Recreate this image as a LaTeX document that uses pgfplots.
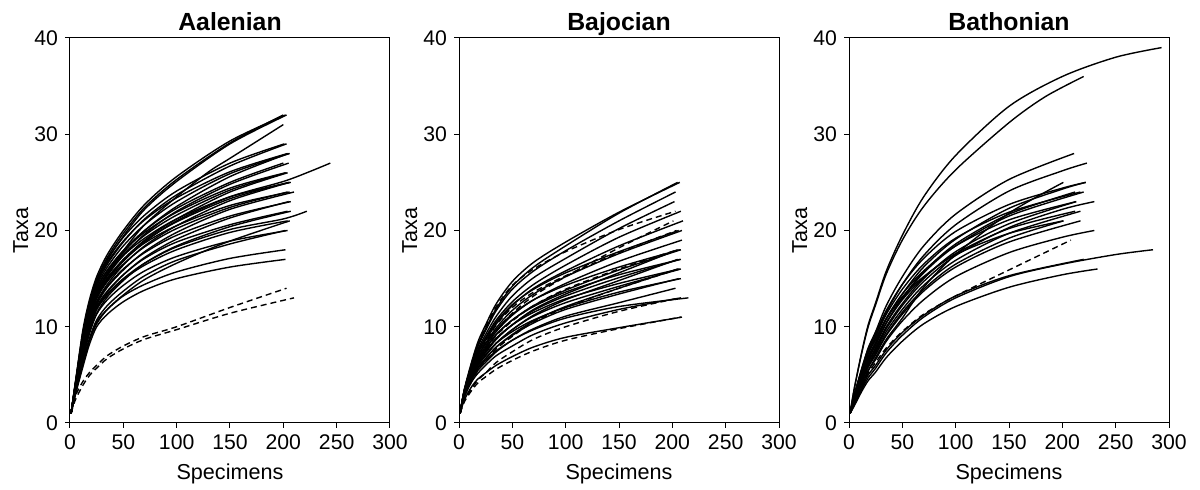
\documentclass[border=0pt]{standalone}
\usepackage{fontspec}
\setmainfont{Liberation Sans}
\usepackage{pgfplots}
\pgfplotsset{compat=1.18}

\pgfplotsset{
  rc/.style={black, line width=0.7pt, smooth, no markers},
  rcd/.style={rc, dash pattern=on 3pt off 2pt},
  panel/.style={
    anchor=south west,
    width=160pt, height=192.5pt, scale only axis,
    xmin=0, xmax=300, ymin=0, ymax=40,
    xtick={0,50,...,300}, ytick={0,10,...,40},
    tick align=outside, xtick pos=bottom, ytick pos=left,
    major tick length=2.5pt,
    tick style={black, line width=0.5pt},
    axis line style={line width=0.5pt},
    /pgf/number format/assume math mode=true,
    tick label style={font=\fontsize{10.6}{12}\selectfont},
    label style={font=\fontsize{10.8}{12}\selectfont},
    title style={font=\fontsize{12.4}{14}\selectfont\bfseries,
      at={(axis description cs:0.5,0.9893)}, anchor=base},
    xlabel=Specimens, ylabel=Taxa,
    xlabel style={at={(axis description cs:0.5,-0.148)}, anchor=base},
    ylabel style={at={(axis description cs:-0.131,0.5)}, anchor=base},
  },
}

\begin{document}
\begin{tikzpicture}
\useasboundingbox (-35pt,-33.5pt) rectangle (565pt,211.5pt);

% ---------------- Aalenian
\begin{axis}[panel, at={(0pt,0pt)}, title=Aalenian]
\addplot[rc] coordinates {(1,1)(5,4.2)(12,9.6)(18,12.7)(25,15.2)(35,17.5)(50,20.0)(70,22.7)(100,25.6)(150,29.3)(202,32)};
\addplot[rc] coordinates {(1,1)(5,4.0)(12,9.2)(18,12.2)(25,14.6)(35,16.9)(50,19.4)(70,22.2)(100,25.1)(150,29.0)(203,32)};
\addplot[rc] coordinates {(1,1)(5,4.1)(12,9.4)(18,12.4)(25,14.9)(35,17.2)(50,19.7)(70,22.4)(100,25.3)(150,29.1)(200,32)};
\addplot[rc] coordinates {(1,1)(5,3.9)(12,8.5)(18,11.2)(25,13.4)(35,15.6)(50,17.9)(70,20.6)(100,23.5)(130,26.1)(150,27.5)(200,31)};
\addplot[rc] coordinates {(1,1)(5,4.0)(12,8.9)(18,11.9)(25,14.4)(35,16.5)(50,18.8)(70,21.2)(100,23.7)(150,26.7)(203,29)};
\addplot[rc] coordinates {(1,1)(5,4.1)(12,9.2)(18,12.3)(25,14.8)(35,17.0)(50,19.3)(70,21.6)(100,24.1)(150,27.0)(201,29)};
\addplot[rc] coordinates {(1,1)(5,3.9)(12,8.7)(18,11.7)(25,14.2)(35,16.2)(50,18.4)(70,20.6)(100,23.0)(150,25.9)(206,28)};
\addplot[rc] coordinates {(1,1)(5,3.8)(12,8.3)(18,11.2)(25,13.5)(35,15.5)(50,17.7)(70,20.0)(100,22.5)(150,25.6)(205,28)};
\addplot[rc] coordinates {(1,1)(5,4.0)(12,9.0)(18,12.1)(25,14.6)(35,16.7)(50,18.9)(70,21.1)(100,23.4)(150,26.1)(204,28)};
\addplot[rc] coordinates {(1,1)(5,3.9)(12,8.5)(18,11.5)(25,13.9)(35,15.8)(50,17.9)(70,20.0)(100,22.3)(150,25.0)(200,27)};
\addplot[rc] coordinates {(1,1)(5,3.8)(12,8.2)(18,11.1)(25,13.4)(35,15.3)(50,17.4)(70,19.6)(100,22.0)(150,24.8)(205,27)};
\addplot[rc] coordinates {(1,1)(5,3.8)(12,8.2)(18,11.2)(25,13.6)(35,15.5)(50,17.5)(70,19.5)(100,21.6)(150,24.2)(203,26)};
\addplot[rc] coordinates {(1,1)(5,3.7)(12,7.9)(18,10.7)(25,13.0)(35,14.9)(50,16.9)(70,19.0)(100,21.2)(150,24.0)(204,26)};
\addplot[rc] coordinates {(1,1)(5,3.9)(12,8.6)(18,11.6)(25,14.0)(35,15.9)(50,17.9)(70,19.8)(100,21.9)(150,24.4)(202,26)};
\addplot[rc] coordinates {(1,1)(5,3.7)(12,8.0)(18,10.9)(25,13.2)(35,15.0)(50,17.0)(70,18.9)(100,20.9)(150,23.3)(205,25)};
\addplot[rc] coordinates {(1,1)(5,3.6)(12,7.6)(18,10.4)(25,12.6)(35,14.4)(50,16.4)(70,18.4)(100,20.5)(150,23.1)(206,25)};
\addplot[rc] coordinates {(1,1)(5,3.8)(12,8.3)(18,11.3)(25,13.7)(35,15.5)(50,17.4)(70,19.2)(100,21.2)(150,23.5)(207,25)};
\addplot[rc] coordinates {(1,1)(5,3.7)(12,7.9)(18,10.7)(25,13.0)(35,14.8)(50,16.8)(70,18.8)(100,21.0)(150,23.5)(203,25.2)(244,27)};
\addplot[rc] coordinates {(1,1)(5,3.6)(12,7.7)(18,10.6)(25,12.9)(35,14.7)(50,16.5)(70,18.3)(100,20.2)(150,22.4)(204,24)};
\addplot[rc] coordinates {(1,1)(5,3.5)(12,7.4)(18,10.1)(25,12.3)(35,14.1)(50,15.9)(70,17.8)(100,19.8)(150,22.2)(210,24)};
\addplot[rc] coordinates {(1,1)(5,3.7)(12,7.9)(18,10.9)(25,13.3)(35,15.1)(50,16.9)(70,18.7)(100,20.5)(150,22.6)(206,24)};
\addplot[rc] coordinates {(1,1)(5,3.5)(12,7.5)(18,10.3)(25,12.5)(35,14.2)(50,16.0)(70,17.7)(100,19.5)(150,21.5)(207,23)};
\addplot[rc] coordinates {(1,1)(5,3.4)(12,7.1)(18,9.7)(25,11.9)(35,13.6)(50,15.4)(70,17.2)(100,19.1)(150,21.3)(205,23)};
\addplot[rc] coordinates {(1,1)(5,3.5)(12,7.2)(18,9.9)(25,12.1)(35,13.7)(50,15.4)(70,17.1)(100,18.8)(150,20.6)(204,22)};
\addplot[rc] coordinates {(1,1)(5,3.3)(12,6.8)(18,9.3)(25,11.4)(35,13.1)(50,14.8)(70,16.6)(100,18.4)(150,20.4)(207,22)};
\addplot[rc] coordinates {(1,1)(5,3.4)(12,7.0)(18,9.6)(25,11.8)(35,13.4)(50,15.0)(70,16.6)(100,18.3)(150,20.1)(200,21.2)(222,22)};
\addplot[rc] coordinates {(1,1)(5,3.4)(12,6.9)(18,9.6)(25,11.8)(35,13.3)(50,14.9)(70,16.4)(100,18.0)(150,19.8)(204,21)};
\addplot[rc] coordinates {(1,1)(5,3.1)(12,6.2)(18,8.5)(25,10.3)(35,11.8)(50,13.3)(70,14.9)(100,16.6)(145,18.7)(206,21)};
\addplot[rc] coordinates {(1,1)(5,3.2)(12,6.6)(18,9.2)(25,11.3)(35,12.8)(50,14.3)(70,15.8)(100,17.3)(150,18.9)(204,20)};
\addplot[rc] coordinates {(1,1)(5,3.1)(12,6.3)(18,8.7)(25,10.7)(35,12.2)(50,13.7)(70,15.3)(100,16.9)(150,18.6)(202,20)};
\addplot[rc] coordinates {(1,1)(5,3.0)(12,6.1)(18,8.5)(25,10.5)(35,11.8)(50,13.2)(70,14.4)(100,15.7)(150,17.1)(202,18)};
\addplot[rc] coordinates {(1,1)(5,2.9)(12,5.8)(18,8.1)(25,10.0)(35,11.3)(50,12.6)(70,13.8)(100,15.0)(150,16.2)(202,17)};
\addplot[rcd] coordinates {(1,1)(5,2.8)(12,4.3)(18,5.2)(25,6.0)(35,7.0)(50,8.0)(70,9.0)(100,10.0)(150,12.0)(203,14)};
\addplot[rcd] coordinates {(1,1)(5,2.4)(12,3.9)(18,4.9)(25,5.7)(35,6.7)(50,7.7)(70,8.7)(100,9.7)(150,11.4)(210,13)};
\end{axis}

% ---------------- Bajocian
\begin{axis}[panel, at={(194.5pt,0pt)}, title=Bajocian]
\addplot[rc] coordinates {(1,1)(5,3.5)(12,6.4)(18,8.5)(25,10.2)(35,12.4)(50,14.7)(70,16.7)(100,18.8)(150,21.9)(207,25)};
\addplot[rc] coordinates {(1,1)(5,3.4)(12,6.2)(18,8.2)(25,9.8)(35,11.9)(50,14.2)(70,16.2)(100,18.4)(150,21.8)(205,25)};
\addplot[rc] coordinates {(1,1)(5,3.4)(12,6.1)(18,8.0)(25,9.6)(35,11.7)(50,13.9)(70,15.8)(100,17.9)(150,21.0)(203,24)};
\addplot[rc] coordinates {(1,1)(5,3.3)(12,5.9)(18,7.7)(25,9.2)(35,11.1)(50,13.2)(70,15.1)(100,17.1)(150,20.2)(202,23)};
\addplot[rc] coordinates {(1,1)(5,3.3)(12,5.8)(18,7.5)(25,8.9)(35,10.7)(50,12.6)(70,14.4)(100,16.4)(150,19.3)(208,22)};
\addplot[rc] coordinates {(1,1)(5,3.3)(12,5.7)(18,7.3)(25,8.6)(35,10.3)(50,12.2)(70,14.0)(100,15.8)(150,18.4)(210,21)};
\addplot[rc] coordinates {(1,1)(5,3.3)(12,5.6)(18,7.1)(25,8.3)(35,9.9)(50,11.7)(70,13.4)(100,15.2)(150,17.6)(209,20)};
\addplot[rc] coordinates {(1,1)(5,3.4)(12,5.9)(18,7.5)(25,8.8)(35,10.5)(50,12.3)(70,13.9)(100,15.6)(150,17.8)(206,20)};
\addplot[rc] coordinates {(1,1)(5,3.2)(12,5.4)(18,6.8)(25,8.0)(35,9.5)(50,11.2)(70,12.8)(100,14.5)(150,16.8)(209,19)};
\addplot[rc] coordinates {(1,1)(5,3.2)(12,5.3)(18,6.6)(25,7.7)(35,9.2)(50,10.7)(70,12.2)(100,13.8)(150,15.9)(208,18)};
\addplot[rc] coordinates {(1,1)(5,3.3)(12,5.6)(18,7.0)(25,8.2)(35,9.7)(50,11.3)(70,12.8)(100,14.3)(150,16.2)(207,18)};
\addplot[rc] coordinates {(1,1)(5,3.0)(12,5.0)(18,6.3)(25,7.3)(35,8.7)(50,10.2)(70,11.8)(100,13.4)(150,15.6)(205,18)};
\addplot[rc] coordinates {(1,1)(5,3.1)(12,5.1)(18,6.4)(25,7.4)(35,8.8)(50,10.2)(70,11.7)(100,13.2)(150,15.1)(207,17)};
\addplot[rc] coordinates {(1,1)(5,3.2)(12,5.4)(18,6.7)(25,7.8)(35,9.2)(50,10.7)(70,12.1)(100,13.6)(150,15.4)(208,17)};
\addplot[rc] coordinates {(1,1)(5,2.9)(12,4.8)(18,6.0)(25,7.0)(35,8.3)(50,9.7)(70,11.2)(100,12.8)(150,14.8)(205,17)};
\addplot[rc] coordinates {(1,1)(5,3.0)(12,4.9)(18,6.1)(25,7.0)(35,8.3)(50,9.7)(70,11.1)(100,12.5)(150,14.2)(208,16)};
\addplot[rc] coordinates {(1,1)(5,3.1)(12,5.2)(18,6.5)(25,7.5)(35,8.8)(50,10.2)(70,11.5)(100,12.9)(150,14.5)(207,16)};
\addplot[rc] coordinates {(1,1)(5,2.8)(12,4.6)(18,5.8)(25,6.7)(35,7.9)(50,9.2)(70,10.6)(100,12.1)(150,14.0)(205,16)};
\addplot[rc] coordinates {(1,1)(5,2.9)(12,4.7)(18,5.8)(25,6.7)(35,7.9)(50,9.1)(70,10.4)(100,11.8)(150,13.4)(206,15)};
\addplot[rc] coordinates {(1,1)(5,3.0)(12,5.0)(18,6.2)(25,7.1)(35,8.3)(50,9.5)(70,10.7)(100,12.0)(150,13.6)(208,15)};
\addplot[rc] coordinates {(1,1)(5,2.8)(12,4.5)(18,5.5)(25,6.3)(35,7.4)(50,8.6)(70,9.8)(100,11.1)(150,12.5)(203,14)};
\addplot[rc] coordinates {(1,1)(5,2.7)(12,4.3)(18,5.2)(25,6.0)(35,7.0)(50,8.0)(70,9.2)(100,10.4)(150,11.8)(208,13)};
\addplot[rc] coordinates {(1,1)(5,2.8)(12,4.6)(18,5.7)(25,6.5)(35,7.5)(50,8.6)(70,9.7)(100,10.9)(150,12.1)(215,13)};
\addplot[rc] coordinates {(1,1)(5,2.4)(12,3.8)(18,4.6)(25,5.2)(35,6.0)(50,6.9)(70,7.9)(100,8.9)(150,9.9)(209,11)};
\addplot[rcd] coordinates {(1,1)(5,3.4)(12,6.3)(18,8.3)(25,10.0)(35,12.1)(50,14.3)(70,16.0)(100,17.8)(150,20.1)(203,22)};
\addplot[rcd] coordinates {(1,1)(5,3.0)(12,5.0)(18,6.5)(25,7.8)(35,9.6)(50,11.4)(70,13.2)(100,15.2)(150,18.2)(201,21)};
\addplot[rcd] coordinates {(1,1)(5,3.1)(12,5.4)(18,7.1)(25,8.4)(35,10.2)(50,12.0)(70,13.6)(100,15.3)(150,17.7)(204,20)};
\addplot[rcd] coordinates {(1,1)(5,3.0)(12,5.1)(18,6.5)(25,7.6)(35,9.1)(50,10.6)(70,12.2)(100,13.9)(150,16.0)(205,18)};
\addplot[rcd] coordinates {(1,1)(5,2.7)(12,4.4)(18,5.5)(25,6.4)(35,7.7)(50,9.0)(70,10.5)(100,12.0)(150,14.0)(206,16)};
\addplot[rcd] coordinates {(1,1)(5,2.3)(12,3.6)(18,4.5)(25,5.2)(35,6.3)(50,7.4)(70,8.7)(100,10.0)(150,11.6)(207,13)};
\addplot[rcd] coordinates {(1,1)(5,2.2)(12,3.4)(18,4.2)(25,4.8)(35,5.6)(50,6.5)(70,7.5)(100,8.6)(150,9.8)(208,11)};
\end{axis}

% ---------------- Bathonian
\begin{axis}[panel, at={(389.5pt,0pt)}, title=Bathonian]
\addplot[rc] coordinates {(1,1)(5,3.6)(12,7.4)(18,10.2)(25,12.5)(35,15.8)(50,19.5)(70,23.5)(100,27.8)(150,32.9)(200,36.0)(250,38.0)(293,39)};
\addplot[rc] coordinates {(1,1)(5,3.6)(12,7.3)(18,10.0)(25,12.3)(35,15.5)(50,19.0)(70,22.5)(100,26.3)(150,31.2)(184,33.9)(220,36)};
\addplot[rc] coordinates {(1,1)(5,2.9)(12,5.6)(18,7.8)(25,9.5)(35,12.2)(50,15.2)(70,18.4)(100,21.7)(150,25.3)(211,28)};
\addplot[rc] coordinates {(1,1)(5,2.8)(12,5.4)(18,7.4)(25,9.0)(35,11.5)(50,14.4)(70,17.4)(100,20.6)(150,24.1)(200,26.2)(223,27)};
\addplot[rc] coordinates {(1,1)(5,2.0)(12,3.8)(18,5.4)(25,6.8)(35,8.7)(50,10.9)(70,14.1)(100,17.5)(150,21.8)(201,25)};
\addplot[rc] coordinates {(1,1)(5,2.6)(12,5.0)(18,6.9)(25,8.4)(35,10.8)(50,13.4)(70,16.2)(100,19.1)(150,22.3)(200,24.3)(222,25)};
\addplot[rc] coordinates {(1,1)(5,2.9)(12,5.7)(18,7.7)(25,9.3)(35,11.7)(50,14.4)(70,17.1)(100,19.9)(150,22.7)(200,24.4)(222,25)};
\addplot[rc] coordinates {(1,1)(5,2.5)(12,4.8)(18,6.6)(25,8.1)(35,10.4)(50,12.9)(70,15.6)(100,18.4)(150,21.5)(220,24)};
\addplot[rc] coordinates {(1,1)(5,2.9)(12,5.5)(18,7.4)(25,9.0)(35,11.3)(50,13.9)(70,16.5)(100,19.2)(150,21.9)(217,24)};
\addplot[rc] coordinates {(1,1)(5,2.5)(12,4.9)(18,6.7)(25,8.1)(35,10.4)(50,13.0)(70,15.7)(100,18.6)(150,21.7)(212,24)};
\addplot[rc] coordinates {(1,1)(5,2.4)(12,4.7)(18,6.4)(25,7.8)(35,10.0)(50,12.4)(70,15.0)(100,17.8)(150,20.7)(213,23)};
\addplot[rc] coordinates {(1,1)(5,2.8)(12,5.3)(18,7.2)(25,8.7)(35,10.9)(50,13.4)(70,15.8)(100,18.4)(150,21.1)(213,23)};
\addplot[rc] coordinates {(1,1)(5,2.4)(12,4.6)(18,6.3)(25,7.6)(35,9.8)(50,12.2)(70,14.7)(100,17.4)(150,20.3)(200,22.2)(230,23)};
\addplot[rc] coordinates {(1,1)(5,2.4)(12,4.5)(18,6.1)(25,7.4)(35,9.5)(50,11.8)(70,14.3)(100,16.9)(150,19.7)(217,22)};
\addplot[rc] coordinates {(1,1)(5,2.7)(12,5.1)(18,6.9)(25,8.3)(35,10.4)(50,12.8)(70,15.1)(100,17.6)(150,20.2)(212,22)};
\addplot[rc] coordinates {(1,1)(5,2.3)(12,4.4)(18,5.9)(25,7.2)(35,9.2)(50,11.5)(70,13.9)(100,16.5)(150,19.2)(201,21)};
\addplot[rc] coordinates {(1,1)(5,2.9)(12,5.5)(18,7.3)(25,8.7)(35,10.8)(50,13.1)(70,15.2)(100,17.5)(150,19.7)(201,21)};
\addplot[rc] coordinates {(1,1)(5,2.3)(12,4.3)(18,5.8)(25,7.1)(35,9.1)(50,11.3)(70,13.7)(100,16.2)(150,18.8)(217,21)};
\addplot[rc] coordinates {(1,1)(5,2.2)(12,4.1)(18,5.5)(25,6.6)(35,8.5)(50,10.6)(70,12.8)(100,15.2)(150,17.7)(200,19.3)(230,20)};
\addplot[rc] coordinates {(1,1)(5,1.9)(12,3.5)(18,4.7)(25,5.7)(35,7.3)(50,9.1)(70,11.0)(100,13.0)(150,15.2)(200,16.5)(250,17.5)(285,18)};
\addplot[rc] coordinates {(1,1)(5,2.0)(12,3.7)(18,5.0)(25,6.0)(35,7.6)(50,9.4)(70,11.2)(100,13.2)(150,15.3)(220,17)};
\addplot[rc] coordinates {(1,1)(5,1.8)(12,3.3)(18,4.4)(25,5.3)(35,6.8)(50,8.5)(70,10.3)(100,12.1)(150,14.1)(200,15.4)(233,16)};
\addplot[rcd] coordinates {(1,1)(5,2.3)(12,3.9)(18,5.2)(25,6.3)(35,7.8)(50,9.5)(70,11.3)(100,13.2)(150,15.9)(208,19)};
\end{axis}
\end{tikzpicture}
\end{document}
